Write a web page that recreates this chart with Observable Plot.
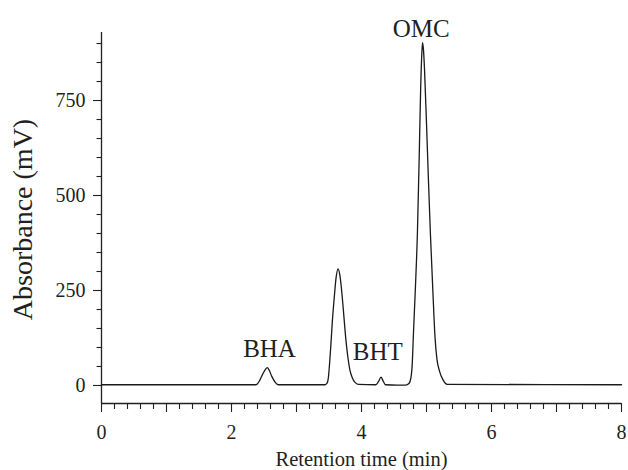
<!DOCTYPE html>
<html>
<head>
<meta charset="utf-8">
<script src="https://cdn.jsdelivr.net/npm/d3@7"></script>
<script src="https://cdn.jsdelivr.net/npm/@observablehq/plot@0.6"></script>
<style>
  html, body { margin: 0; padding: 0; background: #fff; }
  svg { display: block; }
  svg text { font-family: 'Liberation Serif', 'Times New Roman', serif; }
</style>
</head>
<body>
<div id="chart"></div>
<script>
// Retention time (min) and absorbance (mV)
const times = [0, 2.38, 2.43, 2.48, 2.52, 2.55, 2.58, 2.62, 2.67, 2.72,
  3.44, 3.47, 3.49, 3.51, 3.53, 3.55, 3.58, 3.61, 3.64, 3.67, 3.70, 3.73, 3.76, 3.79, 3.82, 3.86, 3.90, 3.95,
  4.22, 4.26, 4.30, 4.33, 4.37, 4.55,
  4.68, 4.73, 4.76, 4.78, 4.80, 4.83, 4.86, 4.89, 4.91, 4.93, 4.94, 4.955, 4.97, 5.00, 5.03, 5.06, 5.10, 5.13, 5.16, 5.20, 5.25, 5.32, 8];
const signal = [2, 2, 12, 30, 42, 47, 40, 24, 9, 2,
  2, 6, 20, 60, 110, 165, 230, 285, 307, 287, 240, 180, 120, 75, 42, 20, 8, 3,
  2, 10, 22, 13, 2, 1,
  1, 5, 20, 55, 140, 260, 400, 620, 780, 880, 902, 880, 830, 690, 540, 400, 240, 130, 70, 38, 16, 3, 2];

// Peak labels
const peakNames = ["BHA", "BHT", "OMC"];
const peakX = [2.585, 4.25, 4.92];
const peakY = [74, 66, 918];

// Axis ticks
const xMajor = [0, 1, 2, 3, 4, 5, 6, 7, 8];
const xLabeled = [0, 2, 4, 6, 8];
const xMinor = d3.range(0, 40).map(i => i / 5).filter(v => Math.abs(v - Math.round(v)) > 1e-9);
const yMajor = [0, 250, 500, 750];
const yMinor = [50, 100, 150, 200, 300, 350, 400, 450, 550, 600, 650, 700, 800, 850, 900];

const xTitle = "Retention time (min)";
const yTitle = "Absorbance (mV)";

const trace = times.map((t, i) => ({t, v: signal[i]}));
const peaks = peakNames.map((n, i) => ({n, x: peakX[i], y: peakY[i]}));

const yMin = -47.4, yMax = 929;
const ink = "#231f20";
const serif = "'Liberation Serif', 'Times New Roman', serif";

const chart = Plot.plot({
  width: 628,
  height: 470,
  marginLeft: 101,
  marginRight: 7,
  marginTop: 32,
  marginBottom: 67,
  style: {fontFamily: serif, color: ink, background: "#fff"},
  x: {domain: [0, 8]},
  y: {domain: [yMin, yMax]},
  marks: [
    Plot.axisX({ticks: xMinor, tickSize: 6, tickFormat: () => "", stroke: ink, strokeWidth: 1.1}),
    Plot.axisX({ticks: xMajor, tickSize: 9, tickFormat: d => xLabeled.includes(d) ? String(d) : "", tickPadding: 12, fontSize: 20, fontFamily: serif, fill: ink, stroke: ink, strokeWidth: 1.1, label: null}),
    Plot.axisY({ticks: yMinor, tickSize: 4.5, tickFormat: () => "", stroke: ink, strokeWidth: 1.1}),
    Plot.axisY({ticks: yMajor, tickSize: 8, tickPadding: 8, fontSize: 20, fontFamily: serif, fill: ink, stroke: ink, strokeWidth: 1.1, label: null}),
    Plot.ruleY([yMin], {stroke: ink, strokeWidth: 1.3}),
    Plot.ruleX([0], {stroke: ink, strokeWidth: 1.3}),
    Plot.line(trace, {x: "t", y: "v", curve: "monotone-x", stroke: "#1a1a1a", strokeWidth: 1.3}),
    Plot.text(peaks, {x: "x", y: "y", text: "n", lineAnchor: "bottom", fontSize: 25, fontFamily: serif, fill: ink}),
    Plot.text([xTitle], {frameAnchor: "bottom", dy: 62, lineAnchor: "bottom", textAnchor: "middle", fontSize: 20.5, fontFamily: serif, fill: ink}),
    Plot.text([yTitle], {frameAnchor: "left", dx: -78, dy: 1.5, rotate: -90, textAnchor: "middle", fontSize: 28, fontFamily: serif, fill: ink})
  ]
});
document.getElementById("chart").appendChild(chart);
</script>
</body>
</html>
